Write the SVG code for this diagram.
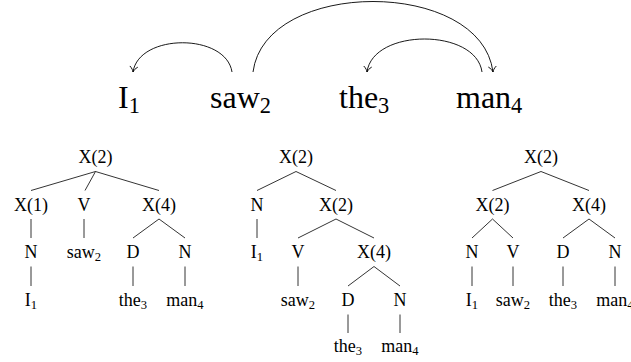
<svg xmlns="http://www.w3.org/2000/svg" width="631" height="362" viewBox="0 0 631 362">
<defs>
<marker id="arr" viewBox="-7 -5 9 10" refX="0" refY="0" markerWidth="9" markerHeight="10" orient="auto" markerUnits="userSpaceOnUse">
<path d="M-5.5,-4 C-3.5,-1.5 -1.5,-0.4 0,0 C-1.5,0.4 -3.5,1.5 -5.5,4" fill="none" stroke="#000" stroke-width="0.9"/>
</marker>
</defs>
<g id="words">
<g id="w1"><text font-family="Liberation Serif" font-size="32" x="118" y="108">I<tspan font-size="22.4" dy="5">1</tspan></text></g>
<g id="w2"><text font-family="Liberation Serif" font-size="32" x="210" y="108">saw<tspan font-size="22.4" dy="5">2</tspan></text></g>
<g id="w3"><text font-family="Liberation Serif" font-size="32" x="339" y="108">the<tspan font-size="22.4" dy="5">3</tspan></text></g>
<g id="w4"><text font-family="Liberation Serif" font-size="32" x="456" y="108">man<tspan font-size="22.4" dy="5">4</tspan></text></g>
</g>
<g id="arcs" fill="none" stroke="#000" stroke-width="0.9">
<path d="M232,72 C226,33 139,33 133,72" marker-end="url(#arr)"/>
<path d="M253,72 C265,-22 481,-22 493,72" marker-end="url(#arr)"/>
<path d="M482,72 C476,28 373,28 367,72" marker-end="url(#arr)"/>
</g>
<g id="connectors" fill="none" stroke="#000" stroke-width="0.8">
<path d="M95.5,171.5 L31,190.5 M95.5,171.5 L85,190.5 M95.5,171.5 L159,190.5"/>
<path d="M31,219 L31,238 M84,219 L84,238 M159,219 L133,238 M159,219 L185,238"/>
<path d="M31,266.5 L31,286 M133,266.5 L133,286 M185,266.5 L185,286"/>
<path d="M296,171.5 L257,190.5 M296,171.5 L336,190.5"/>
<path d="M257,219 L257,238 M336,219 L298,238 M336,219 L374,238"/>
<path d="M298,266.5 L298,286 M374,266.5 L348,286 M374,266.5 L400,286"/>
<path d="M348,314.5 L348,333 M400,314.5 L400,333"/>
<path d="M541,171.5 L492.5,190.5 M541,171.5 L589,190.5"/>
<path d="M492.5,219 L472,238 M492.5,219 L513,238 M589,219 L563,238 M589,219 L615,238"/>
<path d="M472,266.5 L472,286 M513,266.5 L513,286 M563,266.5 L563,286 M615,266.5 L615,286"/>
</g>
<g id="tree1">
<g id="t1_root"><text font-family="Liberation Serif" font-size="18" text-anchor="middle" x="95.5" y="163">X(2)</text></g>
<g id="t1_x1"><text font-family="Liberation Serif" font-size="18" text-anchor="middle" x="31" y="210.5">X(1)</text></g>
<g id="t1_v"><text font-family="Liberation Serif" font-size="18" text-anchor="middle" x="84" y="210.5">V</text></g>
<g id="t1_x4"><text font-family="Liberation Serif" font-size="18" text-anchor="middle" x="159" y="210.5">X(4)</text></g>
<g id="t1_n1"><text font-family="Liberation Serif" font-size="18" text-anchor="middle" x="31" y="258">N</text></g>
<g id="t1_saw"><text font-family="Liberation Serif" font-size="18" text-anchor="middle" x="84" y="258">saw<tspan font-size="12.6" dy="3">2</tspan></text></g>
<g id="t1_d"><text font-family="Liberation Serif" font-size="18" text-anchor="middle" x="133" y="258">D</text></g>
<g id="t1_n2"><text font-family="Liberation Serif" font-size="18" text-anchor="middle" x="185" y="258">N</text></g>
<g id="t1_i"><text font-family="Liberation Serif" font-size="18" text-anchor="middle" x="31" y="306">I<tspan font-size="12.6" dy="3">1</tspan></text></g>
<g id="t1_the"><text font-family="Liberation Serif" font-size="18" text-anchor="middle" x="133" y="306">the<tspan font-size="12.6" dy="3">3</tspan></text></g>
<g id="t1_man"><text font-family="Liberation Serif" font-size="18" text-anchor="middle" x="185" y="306">man<tspan font-size="12.6" dy="3">4</tspan></text></g>
</g>
<g id="tree2">
<g id="t2_root"><text font-family="Liberation Serif" font-size="18" text-anchor="middle" x="296" y="163">X(2)</text></g>
<g id="t2_n1"><text font-family="Liberation Serif" font-size="18" text-anchor="middle" x="257" y="210.5">N</text></g>
<g id="t2_x2"><text font-family="Liberation Serif" font-size="18" text-anchor="middle" x="336" y="210.5">X(2)</text></g>
<g id="t2_i"><text font-family="Liberation Serif" font-size="18" text-anchor="middle" x="257" y="258">I<tspan font-size="12.6" dy="3">1</tspan></text></g>
<g id="t2_v"><text font-family="Liberation Serif" font-size="18" text-anchor="middle" x="298" y="258">V</text></g>
<g id="t2_x4"><text font-family="Liberation Serif" font-size="18" text-anchor="middle" x="374" y="258">X(4)</text></g>
<g id="t2_saw"><text font-family="Liberation Serif" font-size="18" text-anchor="middle" x="298" y="306">saw<tspan font-size="12.6" dy="3">2</tspan></text></g>
<g id="t2_d"><text font-family="Liberation Serif" font-size="18" text-anchor="middle" x="348" y="306">D</text></g>
<g id="t2_n2"><text font-family="Liberation Serif" font-size="18" text-anchor="middle" x="400" y="306">N</text></g>
<g id="t2_the"><text font-family="Liberation Serif" font-size="18" text-anchor="middle" x="348" y="352">the<tspan font-size="12.6" dy="3">3</tspan></text></g>
<g id="t2_man"><text font-family="Liberation Serif" font-size="18" text-anchor="middle" x="400" y="352">man<tspan font-size="12.6" dy="3">4</tspan></text></g>
</g>
<g id="tree3">
<g id="t3_root"><text font-family="Liberation Serif" font-size="18" text-anchor="middle" x="541" y="163">X(2)</text></g>
<g id="t3_x2"><text font-family="Liberation Serif" font-size="18" text-anchor="middle" x="492.5" y="210.5">X(2)</text></g>
<g id="t3_x4"><text font-family="Liberation Serif" font-size="18" text-anchor="middle" x="589" y="210.5">X(4)</text></g>
<g id="t3_n1"><text font-family="Liberation Serif" font-size="18" text-anchor="middle" x="472" y="258">N</text></g>
<g id="t3_v"><text font-family="Liberation Serif" font-size="18" text-anchor="middle" x="513" y="258">V</text></g>
<g id="t3_d"><text font-family="Liberation Serif" font-size="18" text-anchor="middle" x="563" y="258">D</text></g>
<g id="t3_n2"><text font-family="Liberation Serif" font-size="18" text-anchor="middle" x="615" y="258">N</text></g>
<g id="t3_i"><text font-family="Liberation Serif" font-size="18" text-anchor="middle" x="472" y="306">I<tspan font-size="12.6" dy="3">1</tspan></text></g>
<g id="t3_saw"><text font-family="Liberation Serif" font-size="18" text-anchor="middle" x="513" y="306">saw<tspan font-size="12.6" dy="3">2</tspan></text></g>
<g id="t3_the"><text font-family="Liberation Serif" font-size="18" text-anchor="middle" x="563" y="306">the<tspan font-size="12.6" dy="3">3</tspan></text></g>
<g id="t3_man"><text font-family="Liberation Serif" font-size="18" text-anchor="middle" x="615" y="306">man<tspan font-size="12.6" dy="3">4</tspan></text></g>
</g>
</svg>
